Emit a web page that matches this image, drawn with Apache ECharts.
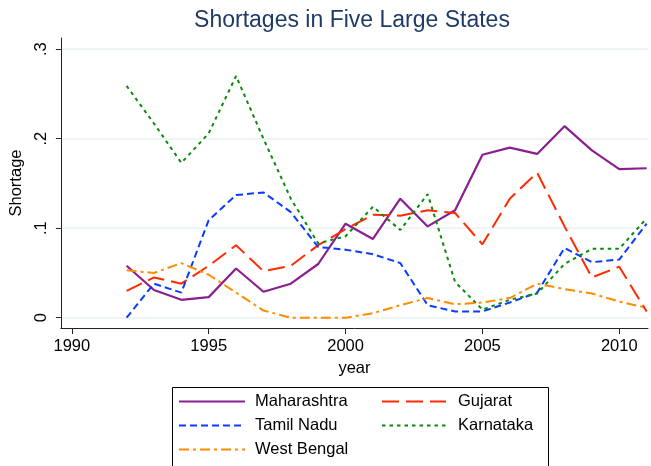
<!DOCTYPE html>
<html>
<head>
<meta charset="utf-8">
<title>Shortages in Five Large States</title>
<script src="https://cdn.jsdelivr.net/npm/echarts@6/dist/echarts.min.js"></script>
<style>
  html, body { margin: 0; padding: 0; background: #fff; }
  #myChart { width: 651px; height: 466px; }
</style>
</head>
<body>
<div id="myChart"></div>
<script>
var years = [1992, 1993, 1994, 1995, 1996, 1997, 1998, 1999, 2000, 2001,
  2002, 2003, 2004, 2005, 2006, 2007, 2008, 2009, 2010, 2011];

var maharashtra = [0.058, 0.031, 0.020, 0.023, 0.055, 0.029, 0.038, 0.060, 0.105, 0.088,
  0.133, 0.102, 0.120, 0.182, 0.190, 0.183, 0.214, 0.187, 0.166, 0.167];
var gujarat = [0.030, 0.045, 0.038, 0.058, 0.081, 0.052, 0.058, 0.081, 0.099, 0.115,
  0.114, 0.120, 0.117, 0.082, 0.133, 0.162, 0.102, 0.045, 0.057, 0.007];
var tamilNadu = [0.000, 0.038, 0.028, 0.109, 0.137, 0.140, 0.118, 0.079, 0.076, 0.071,
  0.061, 0.014, 0.007, 0.007, 0.017, 0.028, 0.078, 0.062, 0.065, 0.105];
var karnataka = [0.259, 0.217, 0.173, 0.206, 0.270, 0.200, 0.133, 0.083, 0.091, 0.124,
  0.098, 0.138, 0.040, 0.009, 0.020, 0.027, 0.060, 0.077, 0.077, 0.111];
var westBengal = [0.053, 0.050, 0.061, 0.048, 0.028, 0.008, 0.000, 0.000, 0.000, 0.005,
  0.014, 0.022, 0.015, 0.017, 0.022, 0.038, 0.032, 0.027, 0.018, 0.011];

var xTicks = [1990, 1995, 2000, 2005, 2010];
var yTicks = [0, 0.1, 0.2, 0.3];

var fontFamily = "'Liberation Sans', Arial, sans-serif";

function pairs(values) {
  return years.map(function (y, i) { return [y, values[i]]; });
}

function lineSeries(name, values, color, dash, width) {
  return {
    name: name,
    type: "line",
    data: pairs(values),
    symbol: "none",
    color: color,
    lineStyle: { color: color, width: width || 2, type: dash },
    emphasis: { disabled: true },
    z: 3
  };
}

// one legend per column so the two columns line up like the original
function legendCol(left, names, iconWidth, textPad) {
  return {
    orient: "vertical",
    left: left,
    top: 393,
    height: 110,
    padding: 0,
    itemWidth: iconWidth,
    itemHeight: 14,
    itemGap: 7,
    itemStyle: { opacity: 0 },
    data: names,
    textStyle: { color: "#000", fontSize: 16.5, padding: [0, 0, 0, textPad], fontFamily: fontFamily },
    selectedMode: false
  };
}

var chartDom = echarts.init(document.getElementById("myChart"));

var option = {
  backgroundColor: "#fff",
  animation: false,
  textStyle: { fontFamily: fontFamily },
  title: {
    text: "Shortages in Five Large States",
    left: 347,
    textAlign: "center",
    top: 4,
    textStyle: { color: "#1f3a68", fontSize: 23, fontWeight: "normal", fontFamily: fontFamily }
  },
  grid: { left: 58, right: 3, top: 38, bottom: 138, containLabel: false },
  xAxis: {
    type: "value",
    min: 1989.6,
    max: 2011.05,
    name: "year",
    nameLocation: "middle",
    nameGap: 30,
    nameTextStyle: { color: "#000", fontSize: 16.5, fontFamily: fontFamily },
    axisLine: { show: true, onZero: false, lineStyle: { color: "#222", width: 1 } },
    axisTick: { show: true, length: 6, customValues: xTicks, lineStyle: { color: "#222" } },
    axisLabel: {
      customValues: xTicks,
      color: "#000",
      fontSize: 16.5,
      margin: 10,
      fontFamily: fontFamily,
      formatter: function (v) { return String(v); }
    },
    splitLine: { show: false }
  },
  yAxis: {
    type: "value",
    min: -0.0115,
    max: 0.3125,
    name: "Shortage",
    nameLocation: "middle",
    nameGap: 24,
    nameRotate: 90,
    nameTextStyle: { color: "#000", fontSize: 16.5, fontFamily: fontFamily },
    axisLine: { show: true, onZero: false, lineStyle: { color: "#222", width: 1 } },
    axisTick: { show: true, length: 5, customValues: yTicks, lineStyle: { color: "#222" } },
    axisLabel: {
      customValues: yTicks,
      rotate: 90,
      color: "#000",
      fontSize: 16.5,
      margin: 11,
      fontFamily: fontFamily,
      formatter: function (v) {
        if (Math.abs(v) < 1e-9) return "0";
        return "." + Math.round(v * 10);
      }
    },
    splitLine: { show: true, lineStyle: { color: "#eaf2f3", width: 1.5 } }
  },
  legend: [
    legendCol(178, ["Maharashtra", "Tamil Nadu", "West Bengal"], 66, 5),
    legendCol(381, ["Gujarat", "Karnataka"], 64, 7)
  ],
  graphic: [
    {
      type: "rect",
      left: 170,
      top: 385,
      shape: { width: 376, height: 79 },
      style: { fill: "none", stroke: "#000", lineWidth: 1 },
      silent: true
    }
  ],
  series: [
    lineSeries("Maharashtra", maharashtra, "#8a1f8f", "solid", 2.2),
    lineSeries("Gujarat", gujarat, "#ff2a00", [17, 7]),
    lineSeries("Tamil Nadu", tamilNadu, "#0a3cff", [7, 4]),
    lineSeries("Karnataka", karnataka, "#0a8a0a", [3.5, 4]),
    lineSeries("West Bengal", westBengal, "#ff8c00", [10, 4, 3, 4])
  ]
};

chartDom.setOption(option);
</script>
</body>
</html>
